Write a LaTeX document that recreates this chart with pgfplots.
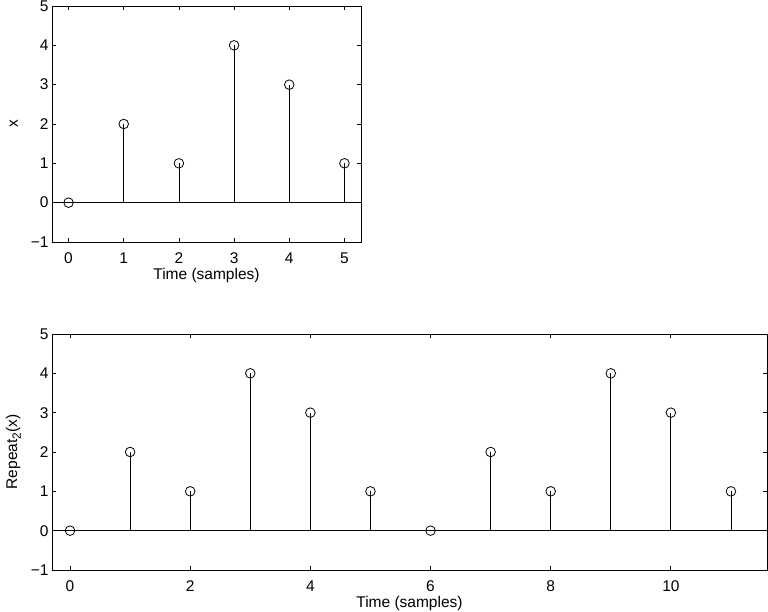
\documentclass[border=0pt]{standalone}
\usepackage{pgfplots}
\pgfplotsset{compat=1.18}
\usepackage{fontspec}
\setmainfont{Liberation Sans}

\pgfplotsset{
  stemax/.style={
    scale only axis,
    axis line style={line width=0.8pt},
    tick style={line width=0.8pt, black},
    tick align=inside,
    major tick length=4pt,
    ymin=-1, ymax=5,
    ytick={-1,0,1,2,3,4,5},
    yticklabels={−1,0,1,2,3,4,5},
    ticklabel style={font=\fontsize{15.5}{18}\selectfont},
    xticklabel style={yshift=-7pt},
    label style={font=\fontsize{15.5}{18}\selectfont},
    xlabel={Time (samples)},
    xlabel style={yshift=2pt},
    clip=false,
  },
  stem/.style={black, line width=0.8pt, ycomb,
    mark=o, mark size=4.8pt, mark options={line width=0.8pt, fill=none}},
}

\begin{document}
\begin{tikzpicture}
\useasboundingbox (0,0) rectangle (768pt,612pt);

\begin{axis}[stemax,
  at={(52pt,370pt)}, anchor=south west,
  width=309pt, height=236pt,
  xmin=-0.3, xmax=5.3,
  xtick={0,1,2,3,4,5},
  xticklabels={0,1,2,3,4,5},
  ylabel={x},
  ylabel style={yshift=6pt},
]
\addplot[black, line width=0.8pt] coordinates {(-0.3,0) (5.3,0)};
\addplot[stem] coordinates {(0,0) (1,2) (2,1) (3,4) (4,3) (5,1)};
\end{axis}

\begin{axis}[stemax,
  at={(52pt,42pt)}, anchor=south west,
  width=715pt, height=236pt,
  xmin=-0.3, xmax=11.6,
  xtick={0,2,4,6,8,10},
  xticklabels={0,2,4,6,8,10},
  ylabel={Repeat\raisebox{-0.45ex}{\fontsize{12}{14}\selectfont 2}(x)},
  ylabel style={yshift=3pt},
]
\addplot[black, line width=0.8pt] coordinates {(-0.3,0) (11.6,0)};
\addplot[stem] coordinates {(0,0) (1,2) (2,1) (3,4) (4,3) (5,1)
  (6,0) (7,2) (8,1) (9,4) (10,3) (11,1)};
\end{axis}
\end{tikzpicture}
\end{document}
